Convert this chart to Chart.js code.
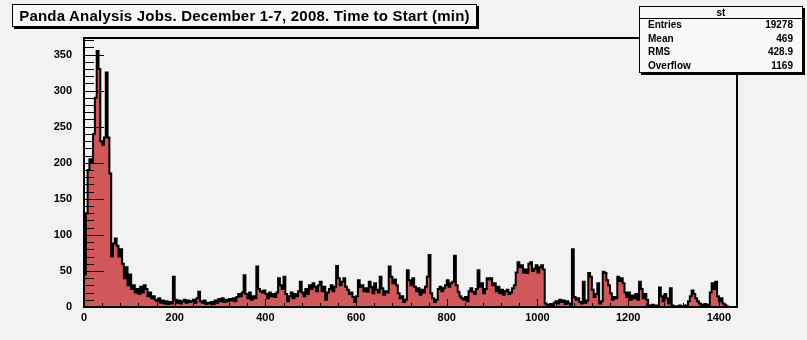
<!DOCTYPE html>
<html>
<head>
<meta charset="utf-8">
<title>Panda Analysis Jobs - Time to Start</title>
<script src="https://cdn.jsdelivr.net/npm/chart.js@4.4.1/dist/chart.umd.min.js"></script>
<style>
    body { margin: 0; background: #f2f2f2; }
    #wrap { position: relative; width: 807px; height: 340px; overflow: hidden; }
    #chart { position: absolute; left: 0; top: 0; }
    .pave {
        position: absolute;
        background: #f8f8f8;
        border: 1px solid #000;
        box-shadow: 2px 2px 0 #000;
        font-family: "Liberation Sans", Arial, sans-serif;
        font-weight: bold;
        color: #000;
    }
    #title {
        left: 12px; top: 4px; width: 463px; height: 21px;
        font-size: 15px; line-height: 21px; text-align: center;
        letter-spacing: 0.2px; white-space: nowrap;
    }
    #stats { left: 639px; top: 6px; width: 162px; height: 65px; font-size: 10px; }
    #stats .hd { height: 11px; line-height: 11px; text-align: center; border-bottom: 1px solid #000; }
    #stats .row { position: absolute; left: 8px; right: 9px; height: 12px; line-height: 12px; display: flex; justify-content: space-between; }
</style>
</head>
<body>
<div id="wrap">
    <canvas id="chart" width="807" height="340"></canvas>
    <div id="title" class="pave">Panda Analysis Jobs. December 1-7, 2008. Time to Start (min)</div>
    <div id="stats" class="pave">
        <div class="hd">st</div>
        <div class="row" style="top:12px"><span>Entries</span><span>19278</span></div>
        <div class="row" style="top:26px"><span>Mean</span><span>469</span></div>
        <div class="row" style="top:39px"><span>RMS</span><span>428.9</span></div>
        <div class="row" style="top:53px"><span>Overflow</span><span>1169</span></div>
    </div>
</div>
<script>
// histogram: time to start, 4 minute bins from 0 to 1440 min
const binWidth = 4;
const xMin = 0;
const xMax = 1440;
const yMax = 373;
const xTicks = [0, 200, 400, 600, 800, 1000, 1200, 1400];
const yTicks = [0, 50, 100, 150, 200, 250, 300, 350];

const counts = [
    10, 45, 130, 190, 205, 200, 240, 290, 355, 330,   // 0-40
    230, 225, 235, 325, 235, 185, 70, 88, 95, 85,     // 40-80
    70, 80, 60, 40, 55, 30, 45, 25, 30, 20,           // 80-120
    25, 18, 28, 20, 30, 25, 15, 20, 12, 15,           // 120-160
    10, 8, 12, 6, 9, 5, 8, 4, 7, 5,                   // 160-200
    42, 10, 6, 9, 5, 8, 10, 6, 9, 7,                  // 200-240
    8, 10, 6, 12, 21, 8, 6, 9, 4, 6,                  // 240-280
    5, 7, 4, 9, 6, 11, 8, 12, 7, 10,                  // 280-320
    8, 11, 9, 12, 8, 14, 18, 15, 20, 44,              // 320-360
    18, 12, 20, 10, 15, 12, 56, 25, 22, 20,           // 360-400
    23, 18, 12, 20, 15, 18, 14, 20, 40, 30,           // 400-440
    25, 42, 18, 8, 15, 20, 12, 18, 15, 22,            // 440-480
    35, 20, 15, 25, 18, 30, 25, 33, 28, 22,           // 480-520
    30, 35, 22, 28, 10, 20, 25, 30, 22, 28,           // 520-560
    57, 40, 30, 35, 40, 28, 24, 18, 20, 14,           // 560-600
    7, 15, 37, 28, 30, 22, 26, 21, 35, 28,            // 600-640
    19, 33, 24, 20, 42, 26, 17, 22, 20, 56,           // 640-680
    42, 33, 38, 30, 19, 12, 15, 7, 10, 51,            // 680-720
    37, 30, 40, 28, 22, 26, 17, 24, 20, 28,           // 720-760
    42, 72, 19, 12, 7, 10, 25, 28, 22, 26,            // 760-800
    30, 37, 28, 33, 35, 71, 30, 21, 15, 12,           // 800-840
    10, 14, 8, 22, 26, 21, 18, 25, 51, 28,            // 840-880
    33, 19, 25, 40, 38, 40, 30, 33, 22, 28,           // 880-920
    19, 24, 17, 22, 24, 18, 20, 26, 30, 48,           // 920-960
    62, 55, 58, 48, 52, 47, 60, 62, 50, 53,           // 960-1000
    58, 48, 55, 58, 52, 5, 3, 2, 4, 2,                // 1000-1040
    6, 8, 5, 10, 7, 9, 4, 8, 5, 3,                    // 1040-1080
    80, 14, 10, 12, 7, 5, 35, 6, 9, 47,               // 1080-1120
    42, 24, 14, 18, 33, 5, 8, 49, 47, 37,             // 1120-1160
    30, 19, 10, 14, 12, 42, 36, 40, 33, 20,           // 1160-1200
    14, 20, 10, 16, 12, 18, 10, 35, 25, 12,           // 1200-1240
    18, 10, 2, 1, 3, 2, 1, 2, 27, 15,                 // 1240-1280
    8, 18, 12, 5, 26, 2, 1, 0, 1, 2,                  // 1280-1320
    1, 0, 2, 1, 8, 15, 23, 18, 12, 8,                 // 1320-1360
    5, 3, 2, 4, 2, 3, 20, 33, 25, 35,                 // 1360-1400
    15, 8, 12, 5, 3, 1, 0, 0, 0, 0                    // 1400-1440
];

// lower bin edges, plus the closing edge so the last step has a width
const points = counts.map((c, i) => ({ x: xMin + i * binWidth, y: c }));
points.push({ x: xMax, y: counts[counts.length - 1] });

// axis frame with inward ticks, drawn on top of the histogram
const frameTicks = {
    id: 'frameTicks',
    afterDatasetsDraw(chart) {
        const { ctx, chartArea: a, scales } = chart;
        ctx.save();
        ctx.strokeStyle = '#000';
        ctx.lineWidth = 1;
        ctx.beginPath();
        for (let v = 0; v <= yMax; v += 10) {
            const y = Math.round(scales.y.getPixelForValue(v)) + 0.5;
            const len = v % 50 === 0 ? 20 : 10;
            ctx.moveTo(a.left, y);
            ctx.lineTo(a.left + len, y);
        }
        for (let v = 0; v <= xMax; v += 40) {
            const x = Math.round(scales.x.getPixelForValue(v)) + 0.5;
            const len = v % 200 === 0 ? 8 : 4;
            ctx.moveTo(x, a.bottom);
            ctx.lineTo(x, a.bottom - len);
        }
        ctx.stroke();
        ctx.lineWidth = 2;
        ctx.strokeRect(a.left, a.top, a.right - a.left, a.bottom - a.top);
        ctx.restore();
    }
};

Chart.defaults.font.family = '"Liberation Sans", Arial, sans-serif';
Chart.defaults.font.weight = 'bold';
Chart.defaults.color = '#000';

new Chart(document.getElementById('chart'), {
    type: 'line',
    data: {
        datasets: [{
            label: 'st',
            data: points,
            stepped: 'after',
            fill: 'origin',
            backgroundColor: 'rgb(208, 88, 90)',
            borderColor: '#000',
            borderWidth: 2,
            pointRadius: 0,
            tension: 0
        }]
    },
    options: {
        responsive: false,
        animation: false,
        layout: { padding: { left: 0, top: 38, right: 70, bottom: 0 } },
        plugins: {
            legend: { display: false },
            tooltip: { enabled: false }
        },
        scales: {
            x: {
                type: 'linear',
                min: xMin,
                max: xMax,
                afterBuildTicks: s => { s.ticks = xTicks.map(v => ({ value: v })); },
                afterFit: s => { s.height = 33; },
                ticks: {
                    font: { size: 11, weight: 'bold' },
                    padding: 4,
                    maxRotation: 0,
                    callback: v => String(v)
                },
                grid: { display: false, drawTicks: false, tickLength: 0 },
                border: { display: false }
            },
            y: {
                min: 0,
                max: yMax,
                afterBuildTicks: s => { s.ticks = yTicks.map(v => ({ value: v })); },
                afterFit: s => { s.width = 84; },
                ticks: { font: { size: 11, weight: 'bold' }, padding: 12 },
                grid: { display: false, drawTicks: false, tickLength: 0 },
                border: { display: false }
            }
        }
    },
    plugins: [frameTicks]
});
</script>
</body>
</html>
